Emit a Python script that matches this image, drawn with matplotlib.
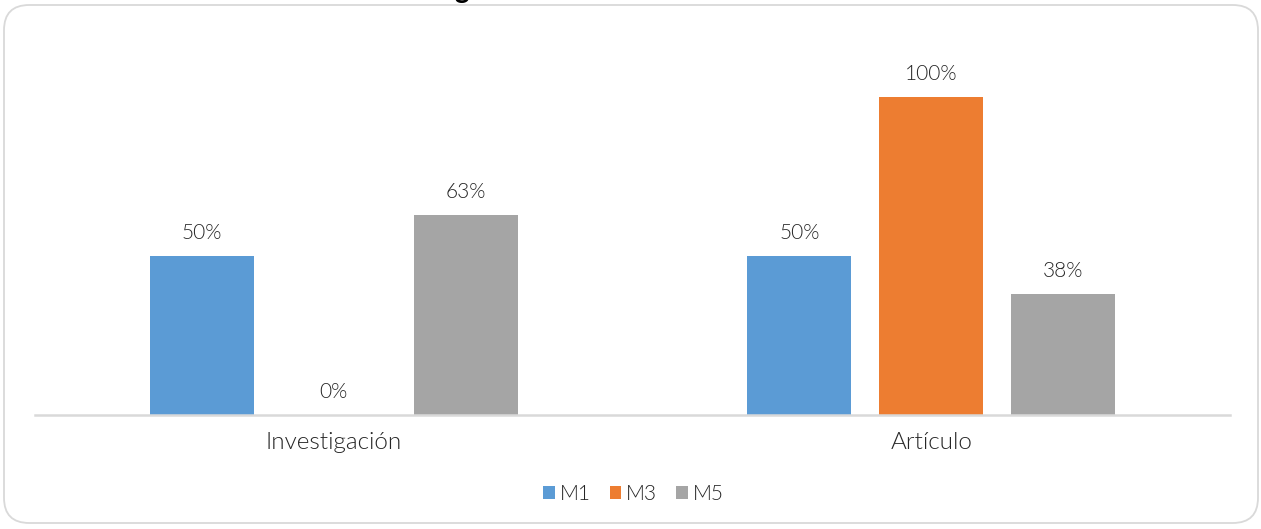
import matplotlib
matplotlib.use("Agg")
import matplotlib.pyplot as plt
from matplotlib.patches import FancyBboxPatch
import numpy as np

categories = ["Investigación", "Artículo"]
series_names = ["M1", "M3", "M5"]
m1 = [0.50, 0.50]
m3 = [0.00, 1.00]
m5 = [0.63, 0.38]
colors = ["#5B9BD5", "#ED7D31", "#A5A5A5"]

plt.rcParams['font.family'] = ['Lato', 'DejaVu Sans']
plt.rcParams['font.weight'] = 300
text_color = "#262626"

W, H = 1261, 529
fig = plt.figure(figsize=(W / 100, H / 100), dpi=100)

# rounded frame
frame = FancyBboxPatch((4 / W, 6 / H), (1254 / W), (518 / H),
                       boxstyle="round,pad=0,rounding_size=0.02",
                       transform=fig.transFigure, facecolor="white",
                       edgecolor="#D9D9D9", linewidth=1.3, zorder=-10,
                       mutation_aspect=W / H)
fig.patches.append(frame)

# cut-off title fragment (only the descender is visible in the reference)
fig.text(462 / W, 1 + 2 / H, "g", fontsize=20, fontweight="bold",
         ha="center", va="baseline", color="black")

ax_left, ax_right = 35 / W, 1230 / W
ax_bottom_px, ax_top_px = 415, 50
ax = fig.add_axes([ax_left, (H - ax_bottom_px) / H, ax_right - ax_left,
                   (ax_bottom_px - ax_top_px) / H])
ax.set_facecolor("none")
ax.set_zorder(5)
ymax = (ax_bottom_px - ax_top_px) / 318
ax.set_ylim(0, ymax)
ax.set_xlim(-0.5, 1.5)

x = np.arange(len(categories))
width = 104 / 597.5
offset = 132 / 597.5
series = [m1, m3, m5]
for i, (vals, name, c) in enumerate(zip(series, series_names, colors)):
    pos = x + (i - 1) * offset
    ax.bar(pos, vals, width=width, color=c, label=name, zorder=2)
    for xp, v in zip(pos, vals):
        ax.text(xp, v + 0.04, f"{round(v * 100):.0f}%", ha="center",
                va="bottom", fontsize=15, color=text_color)

for s in ["top", "right", "left"]:
    ax.spines[s].set_visible(False)
ax.spines["bottom"].set_color("#D9D9D9")
ax.spines["bottom"].set_linewidth(1.8)
ax.set_yticks([])
ax.set_xticks(x)
ax.set_xticklabels(categories, fontsize=17.5, color=text_color)
ax.tick_params(axis="x", length=0, pad=12)

fig.legend(loc="center", bbox_to_anchor=(0.5 + 3 / W, (H - 494) / H), ncol=3,
           frameon=False, fontsize=15, handlelength=0.55,
           handleheight=0.55, handletextpad=0.25, columnspacing=0.9,
           labelcolor=text_color)

fig.savefig("out.png", dpi=100)
